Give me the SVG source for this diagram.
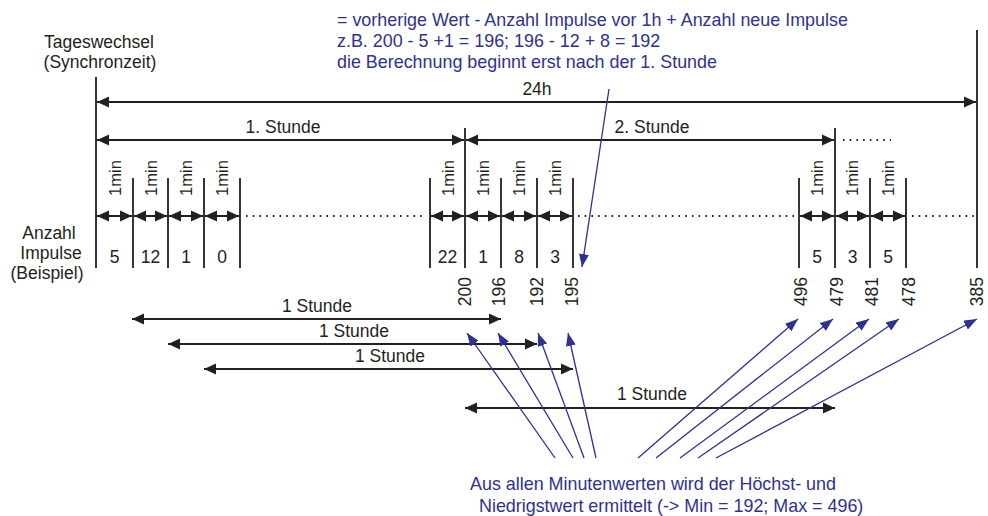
<svg xmlns="http://www.w3.org/2000/svg" width="988" height="516" viewBox="0 0 988 516">
<style>
text{font-family:"Liberation Sans",Arial,sans-serif;font-size:17.5px;fill:#231f20}
.c{text-anchor:middle}
.blue{fill:#2e3192;font-size:17.9px}
.m{font-size:16.5px;text-anchor:middle}
.v{font-size:17.5px;text-anchor:end}
.tick{stroke:#231f20;stroke-width:1.8;fill:none}
.arr{stroke:#231f20;stroke-width:1.8;fill:none;marker-start:url(#ah);marker-end:url(#ah)}
.dot{stroke:#231f20;stroke-width:1.8;stroke-dasharray:1.6 5.1;fill:none}
.bl{stroke:#2e3192;stroke-width:1.3;fill:none;marker-end:url(#bh)}
</style>
<defs>
<marker id="ah" viewBox="0 0 12 12" refX="12" refY="6" markerWidth="12" markerHeight="12" markerUnits="userSpaceOnUse" orient="auto-start-reverse"><path d="M0,0.5 L12,6 L0,11.5 z" fill="#231f20"/></marker>
<marker id="bh" viewBox="0 0 13 10" refX="13" refY="5" markerWidth="13" markerHeight="10" markerUnits="userSpaceOnUse" orient="auto"><path d="M0,0 L13,5 L0,10 z" fill="#2e3192"/></marker>
</defs>

<g id="labels-left">
<text class="c" x="99" y="48">Tageswechsel</text>
<text class="c" x="100" y="68">(Synchronzeit)</text>
<text class="c" x="49" y="239">Anzahl</text>
<text class="c" x="51" y="259">Impulse</text>
<text class="c" x="47" y="279">(Beispiel)</text>
</g>

<g id="note-top">
<text class="blue" x="337" y="26">= vorherige Wert - Anzahl Impulse vor 1h + Anzahl neue Impulse</text>
<text class="blue" x="337" y="47">z.B. 200 - 5 +1 = 196; 196 - 12 + 8 = 192</text>
<text class="blue" x="337" y="68">die Berechnung beginnt erst nach der 1. Stunde</text>
</g>

<g id="note-bottom">
<text class="blue" x="470" y="490">Aus allen Minutenwerten wird der Höchst- und</text>
<text class="blue" x="479" y="512">Niedrigstwert ermittelt (-&gt; Min = 192; Max = 496)</text>
</g>

<g id="timeline">
<path class="tick" d="M96,77V268 M977,30V268 M465,128V268 M835,128V268 M133,178V268 M168,178V268 M204,178V268 M240,178V268 M430,178V268 M501,178V268 M537,178V268 M573,178V268 M799,178V268 M870,178V268 M906,178V268"/>
<path class="dot" d="M246,216H427 M578,216H795 M912,216H977 M843,140H891"/>
</g>

<g id="period-labels">
<text class="c" x="537" y="95">24h</text>
<text class="c" x="283" y="133">1. Stunde</text>
<text class="c" x="652" y="133">2. Stunde</text>
<text class="c" x="317" y="312">1 Stunde</text>
<text class="c" x="354" y="337">1 Stunde</text>
<text class="c" x="390" y="362">1 Stunde</text>
<text class="c" x="652" y="400">1 Stunde</text>
</g>

<g id="minute-labels">
<text class="m" transform="translate(121,178) rotate(-90)">1min</text>
<text class="m" transform="translate(157,178) rotate(-90)">1min</text>
<text class="m" transform="translate(192,178) rotate(-90)">1min</text>
<text class="m" transform="translate(228,178) rotate(-90)">1min</text>
<text class="m" transform="translate(454,178) rotate(-90)">1min</text>
<text class="m" transform="translate(489,178) rotate(-90)">1min</text>
<text class="m" transform="translate(525,178) rotate(-90)">1min</text>
<text class="m" transform="translate(561,178) rotate(-90)">1min</text>
<text class="m" transform="translate(823,178) rotate(-90)">1min</text>
<text class="m" transform="translate(858,178) rotate(-90)">1min</text>
<text class="m" transform="translate(894,178) rotate(-90)">1min</text>
</g>

<g id="counts">
<text class="c" x="114.5" y="263">5</text>
<text class="c" x="150.5" y="263">12</text>
<text class="c" x="186" y="263">1</text>
<text class="c" x="222" y="263">0</text>
<text class="c" x="447.5" y="263">22</text>
<text class="c" x="483" y="263">1</text>
<text class="c" x="519" y="263">8</text>
<text class="c" x="555" y="263">3</text>
<text class="c" x="817" y="263">5</text>
<text class="c" x="852.5" y="263">3</text>
<text class="c" x="888" y="263">5</text>
</g>

<g id="values">
<text class="v" transform="translate(471,277) rotate(-90)">200</text>
<text class="v" transform="translate(505,277) rotate(-90)">196</text>
<text class="v" transform="translate(543,277) rotate(-90)">192</text>
<text class="v" transform="translate(578,277) rotate(-90)">195</text>
<text class="v" transform="translate(807,277) rotate(-90)">496</text>
<text class="v" transform="translate(843,277) rotate(-90)">479</text>
<text class="v" transform="translate(878,277) rotate(-90)">481</text>
<text class="v" transform="translate(915,277) rotate(-90)">478</text>
<text class="v" transform="translate(983,277) rotate(-90)">385</text>
</g>

<g id="connectors">
<path class="arr" d="M97,102H976"/>
<path class="arr" d="M97,140H464"/>
<path class="arr" d="M466,140H834"/>
<path class="arr" d="M97,216H132"/>
<path class="arr" d="M134,216H167"/>
<path class="arr" d="M169,216H203"/>
<path class="arr" d="M205,216H239"/>
<path class="arr" d="M431,216H464"/>
<path class="arr" d="M466,216H500"/>
<path class="arr" d="M502,216H536"/>
<path class="arr" d="M538,216H572"/>
<path class="arr" d="M800,216H834"/>
<path class="arr" d="M836,216H869"/>
<path class="arr" d="M871,216H905"/>
<path class="arr" d="M132,319H501"/>
<path class="arr" d="M168,344H537"/>
<path class="arr" d="M204,369H573"/>
<path class="arr" d="M465,408H835"/>
<path class="bl" d="M609,89L582,267"/>
<path class="bl" d="M555,458L467,333"/>
<path class="bl" d="M573,458L498,333"/>
<path class="bl" d="M584,458L538,333"/>
<path class="bl" d="M596,458L568,333"/>
<path class="bl" d="M638,458L798,319"/>
<path class="bl" d="M656,458L833,319"/>
<path class="bl" d="M680,458L869,319"/>
<path class="bl" d="M698,458L899,319"/>
<path class="bl" d="M716,458L977,319"/>
</g>
</svg>
